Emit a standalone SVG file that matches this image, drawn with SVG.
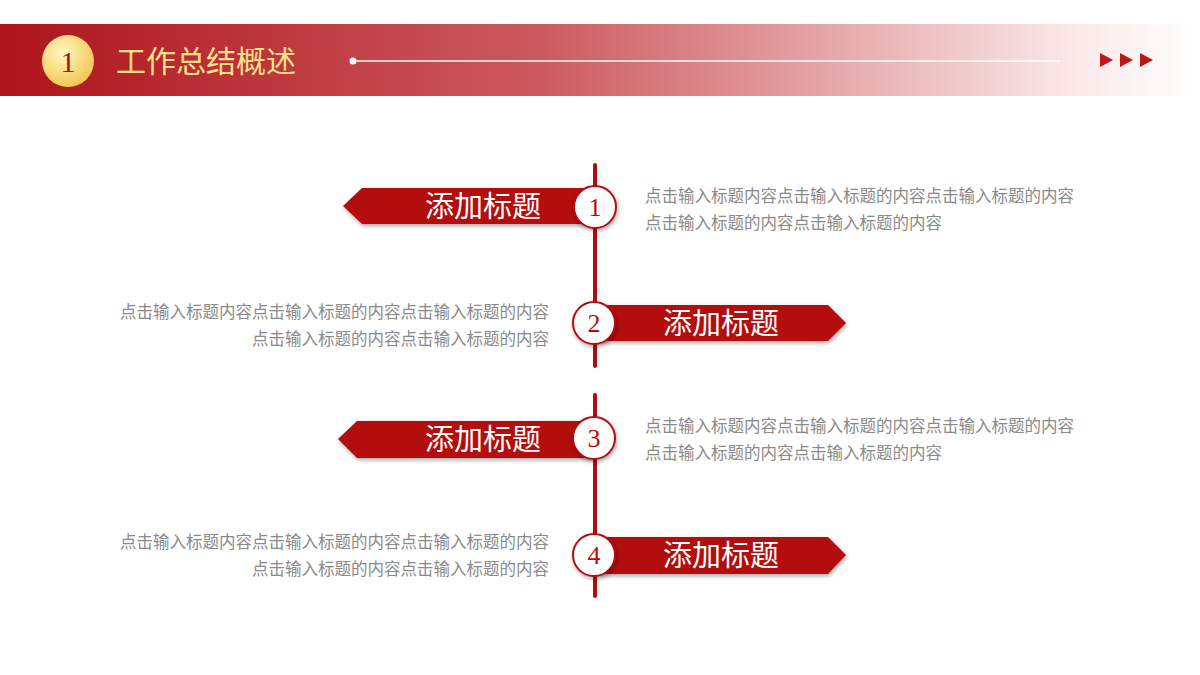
<svg xmlns="http://www.w3.org/2000/svg" width="1200" height="675" viewBox="0 0 1200 675">
<defs>
<linearGradient id="hdr" x1="0" x2="1" y1="0" y2="0"><stop offset="0" stop-color="#ad141b"/><stop offset="0.45" stop-color="#cc5a5e"/><stop offset="0.9" stop-color="#fbeaea"/><stop offset="1" stop-color="#ffffff"/></linearGradient>
<radialGradient id="gold" cx="0.4" cy="0.35" r="0.7"><stop offset="0" stop-color="#fff8c0"/><stop offset="1" stop-color="#f2c44e"/></radialGradient>
<filter id="sh" x="-30%" y="-30%" width="160%" height="160%"><feDropShadow dx="1" dy="2" stdDeviation="2" flood-color="#000" flood-opacity="0.35"/></filter>
</defs>
<style>
.ban{fill:#b30c10}
.num{fill:#fff;stroke:#b30c10;stroke-width:2}
.nt{font-family:"Liberation Serif","Noto Sans CJK SC",serif;font-size:26px;fill:#b30c10;text-anchor:middle}
.bt{font-family:"Noto Sans CJK SC",sans-serif;font-size:29px;fill:#fff;text-anchor:middle}
.dt{font-family:"Noto Sans CJK SC",sans-serif;font-size:16.5px;fill:#8a8a8a}
.vl{stroke:#b30c10;stroke-width:4;stroke-linecap:round}
</style>
<rect width="1200" height="675" fill="#fff"/>
<g id="header">
<rect x="0" y="24" width="1200" height="72" fill="url(#hdr)"/>
<circle cx="68" cy="61" r="26" fill="url(#gold)"/>
<text x="68" y="72" font-family="Liberation Serif,serif" font-size="30" fill="#a01818" text-anchor="middle">1</text>
<text x="116" y="72" font-family="Noto Sans CJK SC,sans-serif" font-size="30" fill="#ffe08a">工作总结概述</text>
<circle cx="353" cy="61" r="3.5" fill="#fff"/>
<line x1="353" y1="61" x2="1060" y2="61" stroke="#fff" stroke-width="1.5"/>
<path d="M1100 53 L1113 60 L1100 67Z M1120 53 L1133 60 L1120 67Z M1140 53 L1153 60 L1140 67Z" fill="#c0141a"/>
</g>
<g id="connectors">
<line class="vl" x1="595" y1="165" x2="595" y2="366"/>
<line class="vl" x1="595" y1="395" x2="595" y2="596"/>
</g>
<g id="node1">
<polygon class="ban" points="343,206 362,188 592,188 592,224 362,224" filter="url(#sh)"/>
<text class="bt" x="483" y="217">添加标题</text>
<circle class="num" cx="595" cy="207" r="21" filter="url(#sh)"/>
<text class="nt" x="595" y="216">1</text>
<text class="dt" x="645" y="202">点击输入标题内容点击输入标题的内容点击输入标题的内容</text>
<text class="dt" x="645" y="229">点击输入标题的内容点击输入标题的内容</text>
</g>
<g id="node2">
<polygon class="ban" points="598,305 828,305 846,323 828,341 598,341" filter="url(#sh)"/>
<text class="bt" x="721" y="334">添加标题</text>
<circle class="num" cx="594" cy="323" r="21" filter="url(#sh)"/>
<text class="nt" x="594" y="332">2</text>
<text class="dt" x="549" y="318" text-anchor="end">点击输入标题内容点击输入标题的内容点击输入标题的内容</text>
<text class="dt" x="549" y="345" text-anchor="end">点击输入标题的内容点击输入标题的内容</text>
</g>
<g id="node3">
<polygon class="ban" points="338,439 357,421 592,421 592,458 357,458" filter="url(#sh)"/>
<text class="bt" x="483" y="450">添加标题</text>
<circle class="num" cx="594" cy="438" r="21" filter="url(#sh)"/>
<text class="nt" x="594" y="447">3</text>
<text class="dt" x="645" y="432">点击输入标题内容点击输入标题的内容点击输入标题的内容</text>
<text class="dt" x="645" y="459">点击输入标题的内容点击输入标题的内容</text>
</g>
<g id="node4">
<polygon class="ban" points="598,537 828,537 846,555 828,574 598,574" filter="url(#sh)"/>
<text class="bt" x="721" y="566">添加标题</text>
<circle class="num" cx="594" cy="555" r="21" filter="url(#sh)"/>
<text class="nt" x="594" y="564">4</text>
<text class="dt" x="549" y="548" text-anchor="end">点击输入标题内容点击输入标题的内容点击输入标题的内容</text>
<text class="dt" x="549" y="575" text-anchor="end">点击输入标题的内容点击输入标题的内容</text>
</g>
</svg>
